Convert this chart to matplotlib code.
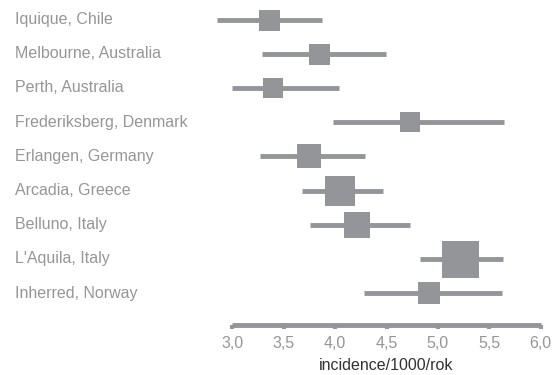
import matplotlib.pyplot as plt
from matplotlib.transforms import blended_transform_factory

# studies, point estimates and confidence limits (incidence per 1000 per year)
sites = ['Iquique, Chile', 'Melbourne, Australia', 'Perth, Australia',
         'Frederiksberg, Denmark', 'Erlangen, Germany', 'Arcadia, Greece',
         'Belluno, Italy', "L'Aquila, Italy", 'Inherred, Norway']
incidence = [3.36, 3.84, 3.39, 4.73, 3.74, 4.05, 4.21, 5.21, 4.91]
ci_low = [2.85, 3.29, 3.00, 3.98, 3.27, 3.68, 3.75, 4.83, 4.28]
ci_high = [3.87, 4.49, 4.04, 5.64, 4.29, 4.47, 4.73, 5.63, 5.62]
# relative study weight, drawn as box size
weight = [21, 21, 20, 20, 24, 30, 26, 37, 23]

ticks = [3.0, 3.5, 4.0, 4.5, 5.0, 5.5, 6.0]
tick_labels = ['3,0', '3,5', '4,0', '4,5', '5,0', '5,5', '6,0']

grey = '#939598'
text_grey = '#969696'

plt.rcParams['font.family'] = ['Liberation Sans', 'DejaVu Sans']

fig = plt.figure(figsize=(5.6, 3.75), dpi=100)
ax = fig.add_axes([210 / 560, 1 - 325 / 375, 340 / 560, 325 / 375])

for i in range(len(sites)):
    ax.plot([ci_low[i], ci_high[i]], [i, i], color=grey, lw=3.5,
            solid_capstyle='butt', zorder=2)
    ax.plot(incidence[i], i, marker='s', ms=weight[i] * 0.72, color=grey,
            mec=grey, mew=0, zorder=3)

trans = blended_transform_factory(fig.transFigure, ax.transData)
for i, name in enumerate(sites):
    ax.text(15 / 560, i, name, transform=trans, ha='left', va='center',
            fontsize=11.5, color=text_grey)

ax.set_xlim(2.781, 6.091)
ax.set_ylim(8.93, -0.57)

for s in ['top', 'right', 'left']:
    ax.spines[s].set_visible(False)
ax.spines['bottom'].set_bounds(3.0, 6.0)
ax.spines['bottom'].set_linewidth(3.5)
ax.spines['bottom'].set_color(grey)
ax.spines['bottom'].set_capstyle('butt')

ax.set_yticks([])
ax.set_xticks(ticks)
ax.set_xticklabels(tick_labels)
ax.tick_params(axis='x', length=3, width=3, color=grey, labelcolor=text_grey,
               labelsize=11.5, pad=5)
ax.set_xlabel('incidence/1000/rok', fontsize=11.5, color='#333333')
# centre the label under the 3,0 - 6,0 span of the axis line
ax.xaxis.set_label_coords(0.519, -0.102)

fig.savefig('out.png', dpi=100)
